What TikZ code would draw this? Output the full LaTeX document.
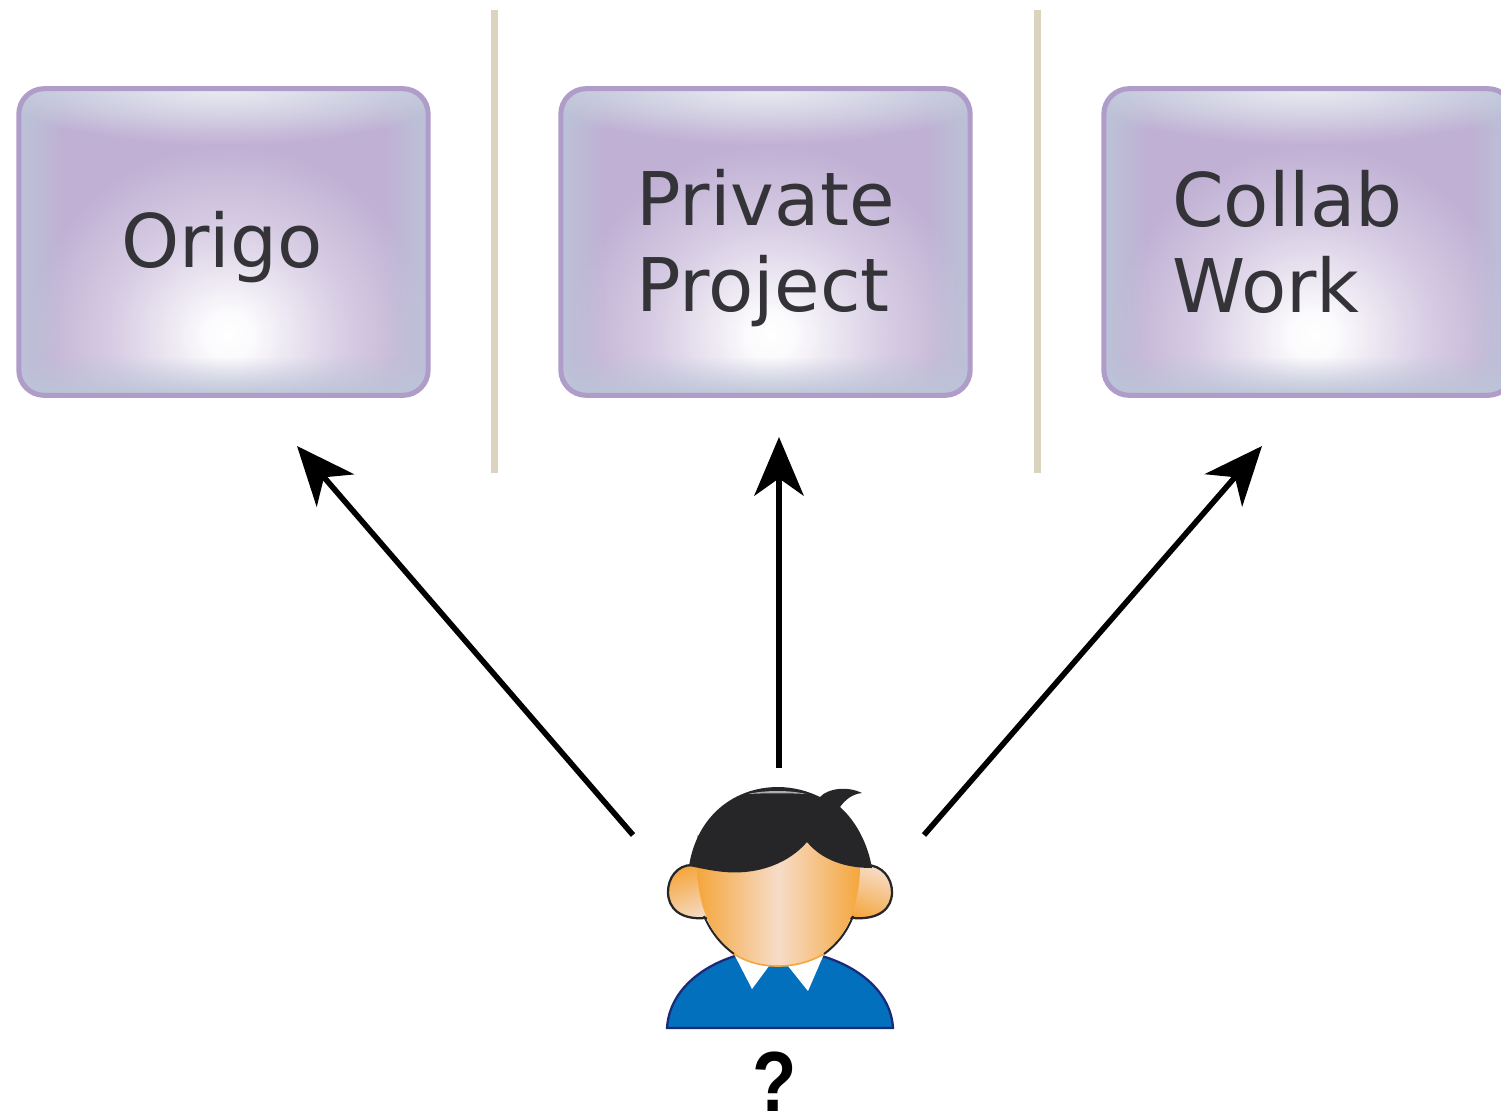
\documentclass[tikz,border=0pt]{standalone}
\usepackage{fontspec}
\setmainfont{DejaVu Sans}
\newfontfamily\markfont{Liberation Sans}
\usetikzlibrary{arrows.meta,fadings,shadows}

\definecolor{boxpurple}{HTML}{C0B0D4}
\definecolor{boxedge}{HTML}{BCC5D8}
\definecolor{boxborder}{HTML}{B09CC8}
\definecolor{boxhigh}{HTML}{EDEDF4}
\definecolor{boxtext}{HTML}{333338}
\definecolor{barcolor}{HTML}{DAD3BE}
\definecolor{skin}{HTML}{F5A63C}
\definecolor{skinlight}{HTML}{F6DCC8}
\definecolor{hair}{HTML}{262628}
\definecolor{shirt}{HTML}{0270BC}
\definecolor{shirtline}{HTML}{1A2A78}

\pgfdeclareradialshading{boxglow}{\pgfpoint{0bp}{0bp}}{color(0bp)=(white); color(3bp)=(white!94!boxpurple); color(8bp)=(white!68!boxpurple); color(15bp)=(white!34!boxpurple); color(25bp)=(boxpurple); color(50bp)=(boxpurple)}
\tikzfading[name=fadeleft,left color=transparent!0,right color=transparent!100]
\tikzfading[name=faderight,left color=transparent!100,right color=transparent!0]
\tikzfading[name=fadetop,top color=transparent!0,bottom color=transparent!100]
\tikzfading[name=fadebottom,top color=transparent!100,bottom color=transparent!0]
\tikzfading[name=fadespot,inner color=transparent!0,outer color=transparent!100]

\tikzset{
	every picture/.style={line width=0.75pt},
	glossybox/.style={rounded corners=19pt,draw=boxborder,line width=3.8pt,minimum width=307pt,minimum height=230pt,inner sep=0pt,
		drop shadow={shadow xshift=0pt,shadow yshift=-1.2pt,opacity=0.3,fill=black},
		path picture={
			\begin{scope}[shift={(path picture bounding box.center)},x=0.75pt,y=-0.75pt,sharp corners]
				\fill [boxpurple] (-220,-170) rectangle (220,170);
				\fill [shading=boxglow] (-195,-97) rectangle (205,283);
				\fill [boxedge,path fading=fadeleft] (-210,-160) rectangle (-160,160);
				\fill [boxedge,path fading=faderight] (160,-160) rectangle (210,160);
				\fill [boxedge,path fading=fadetop] (-210,-155) rectangle (210,-110);
				\fill [boxhigh,path fading=fadespot] (0,-158) ellipse (230 and 62);
				\fill [boxedge,path fading=fadebottom] (-210,115) rectangle (210,155);
			\end{scope}
		}},
	boxlabel/.style={text=boxtext,font=\fontsize{55.5}{64.5}\selectfont,align=left,inner sep=0pt},
	bigarrow/.style={line width=4.2pt,-{Stealth[length=44pt,width=37pt,inset=13pt]}},
	separator/.style={barcolor,line width=5pt},
	outline/.style={draw=black!85,line width=1.7pt}
}

\begin{document}
\begin{tikzpicture}[x=0.75pt,y=0.75pt,yscale=-1,xscale=1]
	\useasboundingbox (0,0) rectangle (1501,1115);
	\clip (0,0) rectangle (1501,1115);

	%Shape: Separators
	\draw [separator] (494.5,10) -- (494.5,473);
	\draw [separator] (1037.5,10) -- (1037.5,473);

	%Shape: Boxes
	\node [glossybox] (origobox) at (223.5,242) {};
	\node [glossybox] (privatebox) at (765.5,242) {};
	\node [glossybox] (collabbox) at (1308.5,242) {};

	% Text Node
	\node [boxlabel] (origo) at (222,247) {Origo};
	% Text Node
	\node [boxlabel] (private) at (765.5,248) {Private\\Project};
	% Text Node
	\node [boxlabel] (collab) at (1287.5,242) {Collab\\Work};

	%Straight Lines
	\coordinate (startleft) at (633,835);
	\coordinate (startmid) at (779,768);
	\coordinate (startright) at (924,835);
	\coordinate (tipleft) at (297,446);
	\coordinate (tipmid) at (779,437);
	\coordinate (tipright) at (1262,446);
	\draw [bigarrow] (startleft) -- (tipleft);
	\draw [bigarrow] (startmid) -- (tipmid);
	\draw [bigarrow] (startright) -- (tipright);

	%Shape: Shirt
	\draw [outline,draw=shirtline,fill=shirt] (667,1028) .. controls (669,994) and (697,968) .. (735,956) -- (822,956) .. controls (862,968) and (891,994) .. (893,1028) -- cycle ;
	%Shape: Collar
	\fill [white] (734,954) -- (752,989) -- (769,966) -- (788,966) -- (808,991) -- (824,954) -- cycle ;
	%Shape: Ears
	\draw [outline,left color=skin,right color=skinlight,shading angle=20] (715,865) -- (692,865) .. controls (677,865) and (668,878) .. (668,892) .. controls (668,908) and (680,920) .. (705,918) -- (720,918) -- cycle ;
	\draw [outline,left color=skinlight,right color=skin,shading angle=-20] (845,865) -- (866,865) .. controls (882,865) and (892,878) .. (892,892) .. controls (892,908) and (880,920) .. (853,918) -- (840,918) -- cycle ;
	%Shape: Face
	\shade [left color=skin,right color=skin,middle color=skinlight] (697,835) -- (697,870) .. controls (699,915) and (716,940) .. (734,954) .. controls (750,964) and (765,966) .. (778,966) .. controls (795,966) and (810,962) .. (824,954) .. controls (842,940) and (858,915) .. (860,870) -- (860,835) -- cycle ;
	\draw [black!85,line width=1.5pt] (704,916) .. controls (712,934) and (722,945) .. (734,954) ;
	\draw [black!85,line width=1.5pt] (853,916) .. controls (846,934) and (836,945) .. (824,954) ;
	\draw [skin,line width=1.2pt] (734,954) .. controls (750,964) and (765,966) .. (778,966) .. controls (795,966) and (810,962) .. (824,954) ;
	%Shape: Hair
	\fill [hair] (689,866) .. controls (697,815) and (735,787) .. (778,787) .. controls (793,787) and (808,791) .. (820,797) .. controls (828,788) and (848,786) .. (862,793) .. controls (852,794) and (845,800) .. (840,807) .. controls (857,822) and (868,845) .. (872,868) .. controls (845,868) and (822,860) .. (807,842) .. controls (790,862) and (760,875) .. (725,872) .. controls (712,871) and (700,868) .. (689,866) -- cycle ;
	\fill [white!62!hair] (748,794) .. controls (765,790) and (790,790) .. (806,794) .. controls (790,793) and (765,793) .. (748,794) -- cycle ;

	% Text Node
	\node [font=\markfont\bfseries\fontsize{64}{64}\selectfont,inner sep=0pt,xscale=0.85] (usermark) at (775,1082) {?};

\end{tikzpicture}
\end{document}
